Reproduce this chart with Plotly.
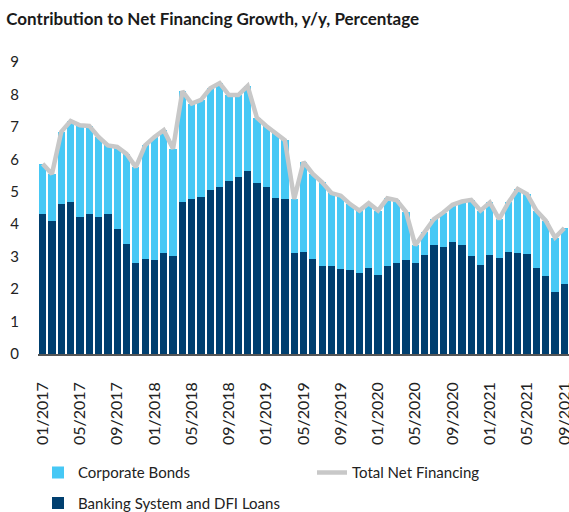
import plotly.graph_objects as go

months = [f"{m:02d}/{y}" for y in range(2017, 2022) for m in range(1, 13)][:57]

banking = [4.32, 4.10, 4.63, 4.69, 4.23, 4.32, 4.23, 4.32, 3.85, 3.38, 2.81, 2.92,
           2.90, 3.11, 3.01, 4.69, 4.78, 4.85, 5.05, 5.14, 5.34, 5.47, 5.65, 5.27,
           5.15, 4.81, 4.78, 3.10, 3.15, 2.92, 2.72, 2.70, 2.61, 2.59, 2.50, 2.64,
           2.42, 2.72, 2.79, 2.91, 2.81, 3.04, 3.35, 3.31, 3.46, 3.36, 3.02, 2.73,
           3.05, 2.95, 3.13, 3.10, 3.07, 2.66, 2.39, 1.90, 2.17]

bonds = [1.54, 1.45, 2.22, 2.49, 2.82, 2.71, 2.46, 2.11, 2.53, 2.79, 2.95, 3.51,
         3.79, 3.79, 3.32, 3.41, 2.94, 2.98, 3.14, 3.21, 2.64, 2.51, 2.61, 2.01,
         1.88, 2.00, 1.81, 1.68, 2.77, 2.63, 2.57, 2.26, 2.27, 2.03, 1.92, 2.01,
         2.00, 2.08, 1.95, 1.47, 0.54, 0.72, 0.81, 1.05, 1.14, 1.34, 1.73, 1.69,
         1.62, 1.21, 1.54, 1.99, 1.86, 1.76, 1.72, 1.69, 1.71]

total = [5.86, 5.55, 6.85, 7.18, 7.05, 7.03, 6.69, 6.43, 6.38, 6.17, 5.76, 6.43,
         6.69, 6.90, 6.33, 8.10, 7.72, 7.83, 8.19, 8.35, 7.98, 7.98, 8.26, 7.28,
         7.03, 6.81, 6.59, 4.78, 5.92, 5.55, 5.29, 4.96, 4.88, 4.62, 4.42, 4.65,
         4.42, 4.80, 4.74, 4.38, 3.35, 3.76, 4.16, 4.36, 4.60, 4.70, 4.75, 4.42,
         4.67, 4.16, 4.67, 5.09, 4.93, 4.42, 4.11, 3.59, 3.88]

tick_labels = months[::4]

NAVY = "#003f6f"
LIGHT = "#46c8f5"
GREY = "#c8c8c8"

fig = go.Figure()
fig.add_trace(go.Bar(x=months, y=banking, name="Banking System and DFI Loans",
                     marker=dict(color=NAVY, line=dict(width=0)),
                     legend="legend", legendgroup="b", legendrank=2))
fig.add_trace(go.Bar(x=months, y=bonds, name="Corporate Bonds",
                     marker=dict(color=LIGHT, line=dict(width=0)),
                     legend="legend", legendgroup="a", legendrank=1))
fig.add_trace(go.Scatter(x=months, y=total, name="Total Net Financing", mode="lines",
                         line=dict(color=GREY, width=4.5), legend="legend2"))

fig.update_layout(
    width=569, height=512,
    barmode="stack", bargap=0.22,
    plot_bgcolor="white", paper_bgcolor="white",
    font=dict(family="Lato", size=15, color="#222222"),
    margin=dict(l=38, r=0, t=62, b=158, autoexpand=False),
    title=dict(text="<b>Contribution to Net Financing Growth, y/y, Percentage</b>",
               x=0.011, xanchor="left", y=0.963, yanchor="middle",
               font=dict(size=17, color="#1a1a1a")),
    xaxis=dict(type="category", tickmode="array", tickvals=tick_labels,
               ticktext=tick_labels, tickangle=-90, showgrid=False,
               showline=True, linecolor="#555555", linewidth=1.5,
               ticks="", ticklabelstandoff=20, tickfont=dict(size=16)),
    yaxis=dict(range=[0, 9], dtick=1, showgrid=False, zeroline=False,
               showline=False, ticks="", ticklabelstandoff=18),
    legend=dict(orientation="v", x=0, xanchor="left", y=-0.35, yanchor="top",
                tracegroupgap=8, traceorder="grouped",
                font=dict(size=15, color="#222222")),
    legend2=dict(orientation="v", x=0.516, xanchor="left", y=-0.35, yanchor="top",
                 font=dict(size=15, color="#222222")),
)

fig.write_html("out.html", config={"displayModeBar": False},
               post_script="document.body.style.margin='0';")
